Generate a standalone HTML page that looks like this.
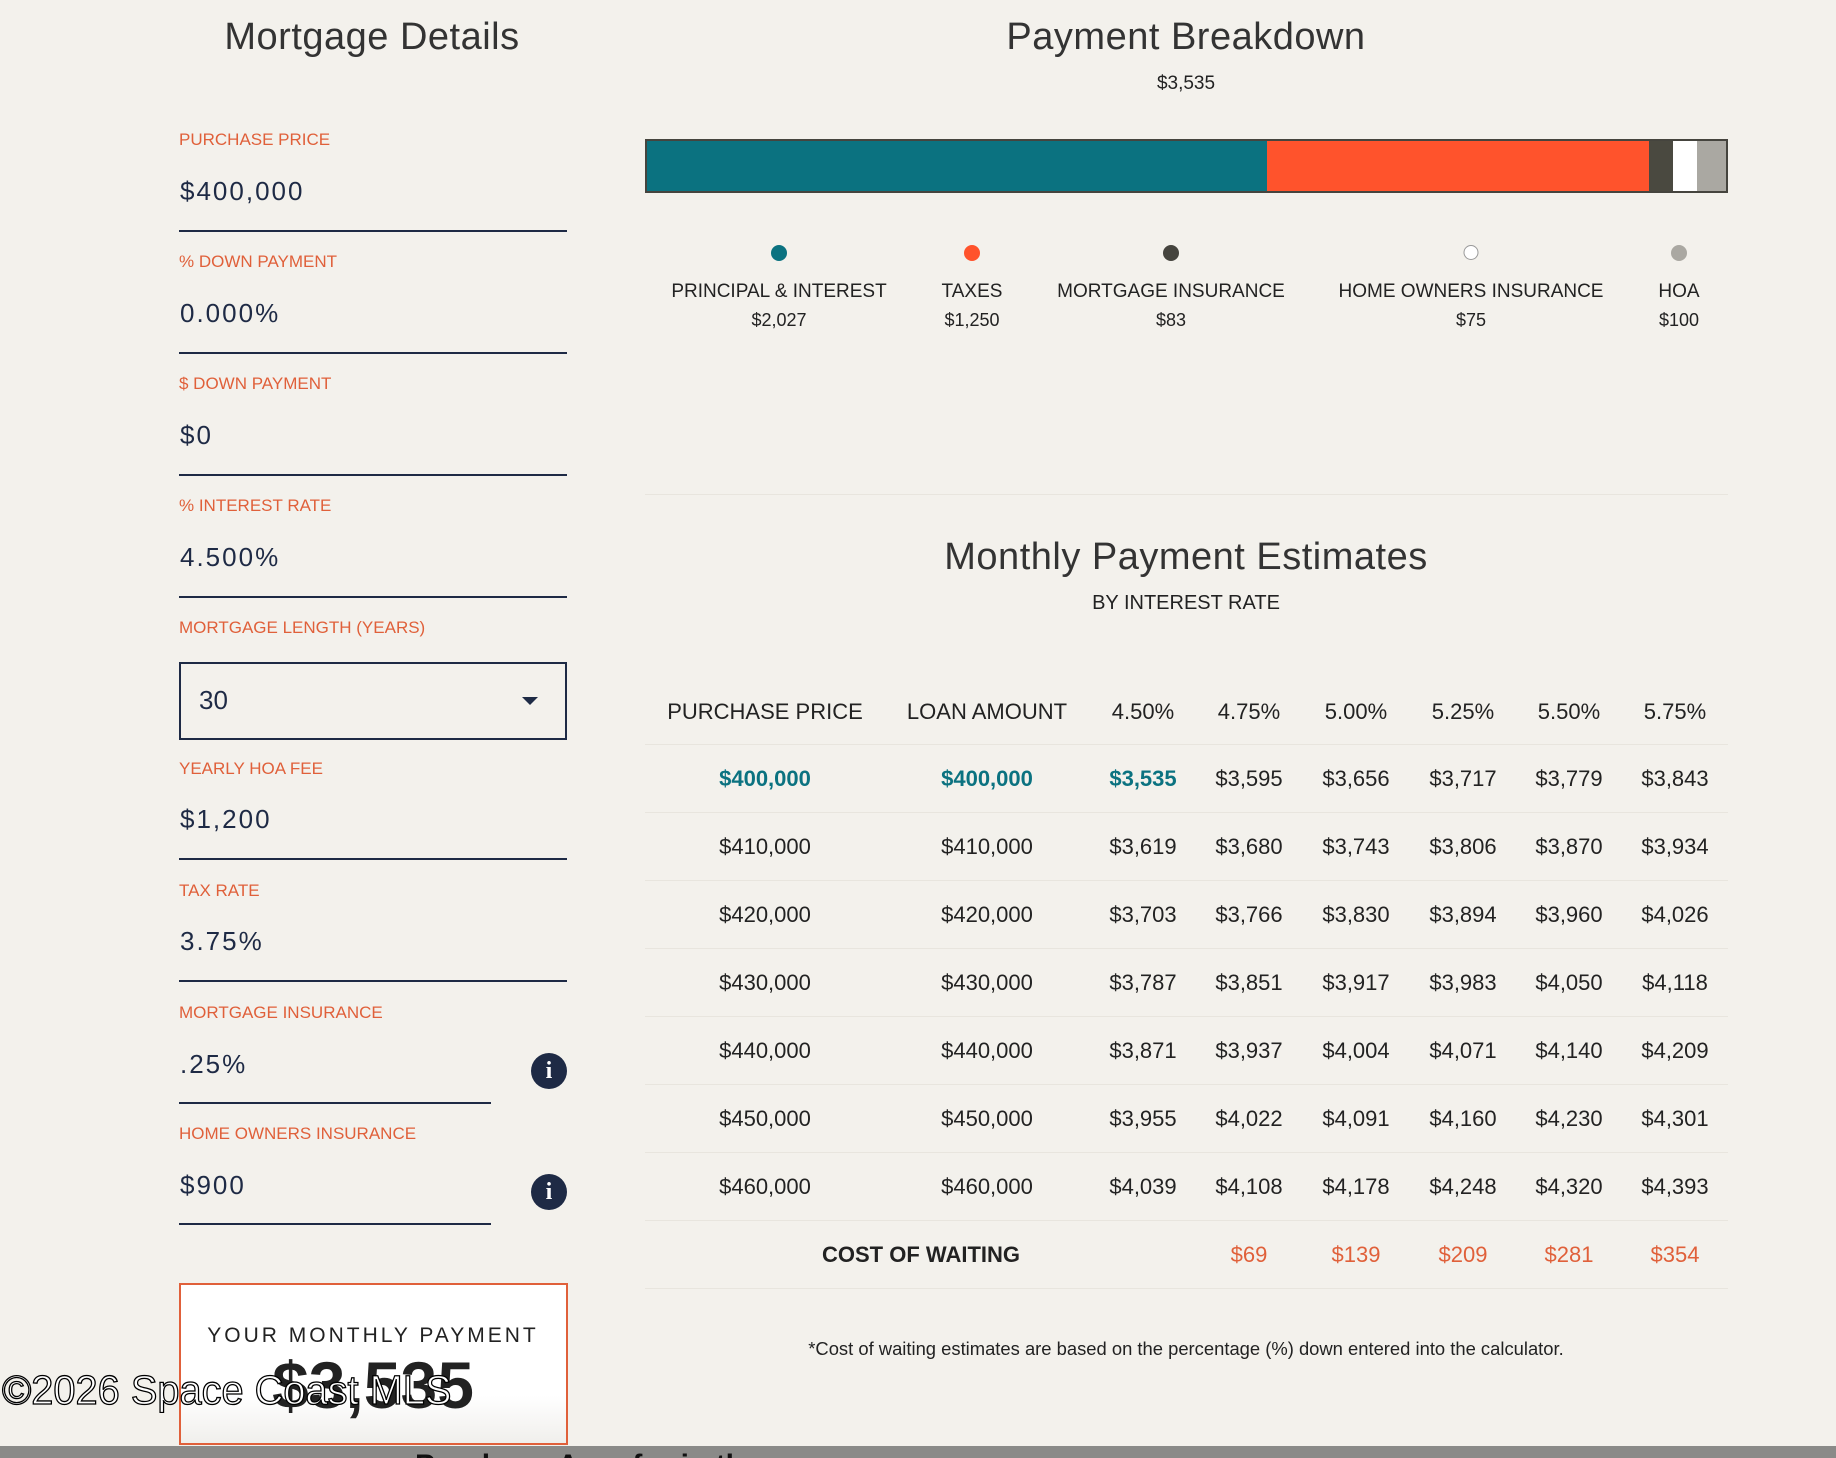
<!DOCTYPE html><html><head><style>
body{margin:0;width:1836px;height:1458px;background:#f3f1ec;position:relative;overflow:hidden;font-family:"Liberation Sans",sans-serif;color:#222}
.a{position:absolute;white-space:nowrap}
.c{transform:translateX(-50%);text-align:center}
.t{font-size:38px;color:#333;letter-spacing:0.5px;font-weight:300}
.lb{font-size:17px;color:#e0603a;left:179px}
.v{font-size:26px;color:#1e2a45;letter-spacing:2px;left:180px}
.ln{position:absolute;left:179px;width:388px;height:2px;background:#1e2a45}
.info{position:absolute;width:36px;height:36px;border-radius:50%;background:#1e2a45;color:#fff;font:bold 24px "Liberation Serif",serif;text-align:center;line-height:36px}
.lg{font-size:19px;color:#222}
.dot{position:absolute;width:16px;height:16px;border-radius:50%;transform:translateX(-50%)}
.tb{font-size:22px;color:#222}
.hl{position:absolute;left:645px;width:1083px;height:1px;background:#e8e5de}
</style></head><body>
<div class="a c t" style="left:372px;top:16px">Mortgage Details</div>
<div class="a lb" style="top:130px">PURCHASE PRICE</div><div class="a v" style="top:176px">$400,000</div><div class="ln" style="top:230px"></div>
<div class="a lb" style="top:252px">% DOWN PAYMENT</div><div class="a v" style="top:298px">0.000%</div><div class="ln" style="top:352px"></div>
<div class="a lb" style="top:374px">$ DOWN PAYMENT</div><div class="a v" style="top:420px">$0</div><div class="ln" style="top:474px"></div>
<div class="a lb" style="top:496px">% INTEREST RATE</div><div class="a v" style="top:542px">4.500%</div><div class="ln" style="top:596px"></div>
<div class="a lb" style="top:618px">MORTGAGE LENGTH (YEARS)</div>
<div style="position:absolute;left:179px;top:662px;width:384px;height:74px;border:2px solid #1e2a45"></div>
<div class="a" style="left:199px;top:685px;font-size:26px;color:#1e2a45">30</div>
<div style="position:absolute;left:522px;top:697px;border-left:8px solid transparent;border-right:8px solid transparent;border-top:8px solid #1e2a45"></div>
<div class="a lb" style="top:759px">YEARLY HOA FEE</div><div class="a v" style="top:804px">$1,200</div><div class="ln" style="top:858px"></div>
<div class="a lb" style="top:881px">TAX RATE</div><div class="a v" style="top:926px">3.75%</div><div class="ln" style="top:980px"></div>
<div class="a lb" style="top:1003px">MORTGAGE INSURANCE</div><div class="a v" style="top:1049px">.25%</div><div class="ln" style="top:1102px;width:312px"></div>
<div class="info" style="left:531px;top:1053px">i</div>
<div class="a lb" style="top:1124px">HOME OWNERS INSURANCE</div><div class="a v" style="top:1170px">$900</div><div class="ln" style="top:1223px;width:312px"></div>
<div class="info" style="left:531px;top:1174px">i</div>
<div style="position:absolute;left:179px;top:1283px;width:385px;height:158px;border:2px solid #e0603a;background:linear-gradient(#fff 70%,#f0efec)"></div>
<div class="a c" style="left:373px;top:1324px;font-size:21px;letter-spacing:3px;color:#222">YOUR MONTHLY PAYMENT</div>
<div class="a c" style="left:373px;top:1347px;font-size:66px;font-weight:bold;color:#222">$3,535</div>
<div class="a" style="left:2px;top:1367px;font-size:41px;color:#fff;-webkit-text-stroke:1.3px #000;transform:scaleX(0.97);transform-origin:left">©2026 Space Coast MLS</div>
<div style="position:absolute;left:0;top:1446px;width:1836px;height:12px;background:#8a8a88"></div>
<div class="a" style="left:415px;top:1446px;font-size:30px;font-weight:bold;color:#111;height:12px;overflow:hidden;line-height:40px">Purchase Area for in the</div>

<div class="a c t" style="left:1186px;top:16px">Payment Breakdown</div>
<div class="a c" style="left:1186px;top:73px;font-size:19px">$3,535</div>
<div style="position:absolute;left:645px;top:139px;width:1079px;height:50px;border:2px solid #45443e;display:flex">
<div style="width:620px;background:#0b7280"></div><div style="width:382px;background:#ff532c"></div><div style="width:24px;background:#4a4940"></div><div style="width:24px;background:#fff"></div><div style="flex:1;background:#aaa8a2"></div></div>
<div class="dot" style="left:779px;top:245px;background:#0b7280"></div>
<div class="dot" style="left:972px;top:245px;background:#ff532c"></div>
<div class="dot" style="left:1171px;top:245px;background:#45443e"></div>
<div class="dot" style="left:1471px;top:245px;background:#fff;border:1.5px solid #999;width:13px;height:13px"></div>
<div class="dot" style="left:1679px;top:245px;background:#aaa8a2"></div>
<div class="a c lg" style="left:779px;top:281px">PRINCIPAL &amp; INTEREST</div><div class="a c lg" style="left:779px;top:310px;font-size:18px">$2,027</div>
<div class="a c lg" style="left:972px;top:281px">TAXES</div><div class="a c lg" style="left:972px;top:310px;font-size:18px">$1,250</div>
<div class="a c lg" style="left:1171px;top:281px">MORTGAGE INSURANCE</div><div class="a c lg" style="left:1171px;top:310px;font-size:18px">$83</div>
<div class="a c lg" style="left:1471px;top:281px">HOME OWNERS INSURANCE</div><div class="a c lg" style="left:1471px;top:310px;font-size:18px">$75</div>
<div class="a c lg" style="left:1679px;top:281px">HOA</div><div class="a c lg" style="left:1679px;top:310px;font-size:18px">$100</div>
<div class="hl" style="top:494px"></div>
<div class="a c t" style="left:1186px;top:536px">Monthly Payment Estimates</div>
<div class="a c" style="left:1186px;top:592px;font-size:20px">BY INTEREST RATE</div>
<div id="tbl"></div>
<div class="a c" style="left:1186px;top:1338px;font-size:18.4px">*Cost of waiting estimates are based on the percentage (%) down entered into the calculator.</div>
<script>
var cx=[765,987,1143,1249,1356,1463,1569,1675];
var rows=[["PURCHASE PRICE","LOAN AMOUNT","4.50%","4.75%","5.00%","5.25%","5.50%","5.75%"],
["$400,000","$400,000","$3,535","$3,595","$3,656","$3,717","$3,779","$3,843"],
["$410,000","$410,000","$3,619","$3,680","$3,743","$3,806","$3,870","$3,934"],
["$420,000","$420,000","$3,703","$3,766","$3,830","$3,894","$3,960","$4,026"],
["$430,000","$430,000","$3,787","$3,851","$3,917","$3,983","$4,050","$4,118"],
["$440,000","$440,000","$3,871","$3,937","$4,004","$4,071","$4,140","$4,209"],
["$450,000","$450,000","$3,955","$4,022","$4,091","$4,160","$4,230","$4,301"],
["$460,000","$460,000","$4,039","$4,108","$4,178","$4,248","$4,320","$4,393"]];
var h="";
rows.forEach(function(r,i){var y=i==0?699:766+68*(i-1);
r.forEach(function(t,j){var st=i==1&&j<3?"color:#0b7280;font-weight:bold;":"";h+='<div class="a c tb" style="left:'+cx[j]+'px;top:'+y+'px;'+st+'">'+t+'</div>';});
h+='<div class="hl" style="top:'+(744+68*i)+'px"></div>';});
var cw=["$69","$139","$209","$281","$354"];
h+='<div class="a c tb" style="left:921px;top:1242px;font-weight:bold">COST OF WAITING</div>';
cw.forEach(function(t,j){h+='<div class="a c tb" style="left:'+cx[j+3]+'px;top:1242px;color:#e0603a">'+t+'</div>';});
h+='<div class="hl" style="top:1288px"></div>';
document.getElementById("tbl").innerHTML=h;
</script>
</body></html>
